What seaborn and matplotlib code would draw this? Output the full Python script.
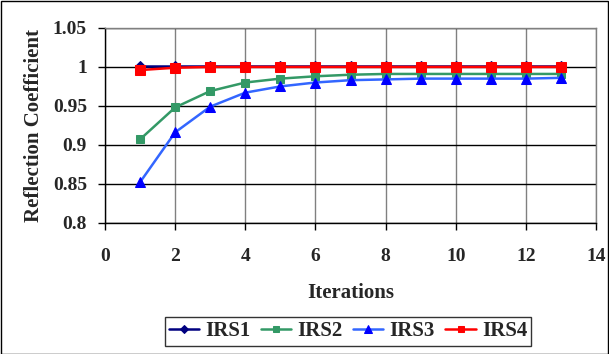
import matplotlib
matplotlib.use("Agg")
import matplotlib.pyplot as plt
import seaborn as sns
import pandas as pd

iterations = list(range(1, 14))
irs1 = [1.001] * 13
irs2 = [0.907, 0.948, 0.969, 0.980, 0.985, 0.988, 0.990, 0.991, 0.991, 0.991, 0.991, 0.991, 0.991]
irs3 = [0.852, 0.916, 0.949, 0.967, 0.975, 0.980, 0.983, 0.984, 0.985, 0.985, 0.985, 0.985, 0.986]
irs4 = [0.996, 0.999, 1.0, 1.0, 1.0, 1.0, 1.0, 1.0, 1.0, 1.0, 1.0, 1.0, 1.0]
names = ["IRS1", "IRS2", "IRS3", "IRS4"]

sns.set_theme(style="white")
plt.rcParams['font.family'] = ['Liberation Serif', 'DejaVu Serif']
plt.rcParams['font.weight'] = 'bold'

fig = plt.figure(figsize=(6.09, 3.54), dpi=100)
ax = fig.add_axes([105/609, 1-222.7/354, (596-105)/609, (222.7-28)/354])

styles = [
    dict(color="#000080", marker="D", mfc="#000080", mec="#000080", ms=5.5),
    dict(color="#339966", marker="s", mfc="#339966", mec="#339966", ms=6),
    dict(color="#3366FF", marker="^", mfc="#0000FF", mec="#0000FF", ms=7),
    dict(color="#FF0000", marker="s", mfc="#FF0000", mec="#FF0000", ms=6.5),
]
for name, vals, st in zip(names, [irs1, irs2, irs3, irs4], styles):
    df = pd.DataFrame({"Iterations": iterations, "Reflection Coefficient": vals})
    sns.lineplot(data=df, x="Iterations", y="Reflection Coefficient", ax=ax,
                 color=st["color"], marker=st["marker"], markerfacecolor=st["mfc"],
                 markeredgecolor=st["mec"], markersize=st["ms"], linewidth=1.8, label=name)

ax.set_xlim(0, 14)
ax.set_ylim(0.8, 1.05)
ax.set_xticks(range(0, 15, 2))
ax.set_yticks([0.8, 0.85, 0.9, 0.95, 1.0, 1.05])
ax.set_yticklabels(["0.8", "0.85", "0.9", "0.95", "1", "1.05"])
ax.grid(True, axis="y", color="black", linewidth=1)
ax.grid(True, axis="x", color="#808080", linewidth=1)
ax.set_axisbelow(True)
for s in ["top", "right"]:
    ax.spines[s].set_color("#808080")
for s in ["left", "bottom"]:
    ax.spines[s].set_color("black")
for s in ax.spines.values():
    s.set_linewidth(1)
ax.tick_params(axis="both", which="major", direction="out", length=5, width=1,
               color="black", labelsize=14, bottom=True, left=True)
ax.tick_params(axis="x", pad=13)
ax.tick_params(axis="y", pad=8)
for lbl in ax.get_xticklabels() + ax.get_yticklabels():
    lbl.set_fontweight("bold")
ax.set_xlabel("Iterations", fontsize=15, fontweight="bold", labelpad=13)
ax.set_ylabel("Reflection Coefficient", fontsize=15, fontweight="bold", labelpad=6)

ax.get_legend().remove()
handles, labels = ax.get_legend_handles_labels()
leg = fig.legend(handles, labels, loc="center", bbox_to_anchor=(348/609, 1-331.5/354),
                 ncol=4, frameon=True, fancybox=False, fontsize=15, handlelength=1.45,
                 handletextpad=0.3, columnspacing=0.5, borderpad=0.2, borderaxespad=0,
                 markerscale=0.75)
leg.get_frame().set_edgecolor("black")
leg.get_frame().set_linewidth(1)
for t in leg.get_texts():
    t.set_fontweight("bold")

fig.patches.append(plt.Rectangle((0.5/609, 0.5/354), 607.5/609, 352.5/354, transform=fig.transFigure,
                                 fill=False, edgecolor="black", linewidth=1))
fig.savefig("out.png", dpi=100)
